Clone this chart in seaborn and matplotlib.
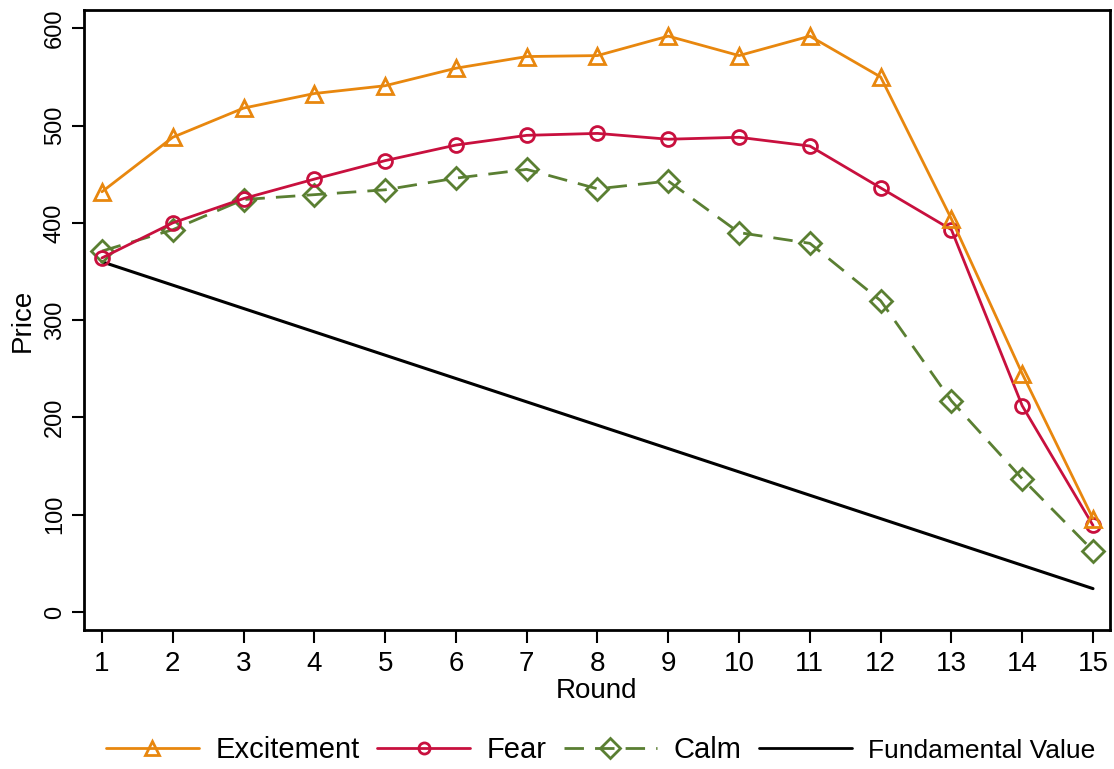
import numpy as np
import pandas as pd
import matplotlib
matplotlib.use('Agg')
import matplotlib.pyplot as plt
from matplotlib.lines import Line2D
import seaborn as sns

# Data
rounds = list(range(1, 16))
excitement = [432, 488, 518, 533, 541, 559, 571, 572, 592, 572, 592, 550, 404, 245, 96]
fear = [364, 400, 425, 445, 464, 480, 490, 492, 486, 488, 479, 436, 393, 212, 89]
calm = [371, 393, 424, 429, 434, 446, 455, 435, 443, 390, 379, 320, 217, 137, 63]
fundamental = [360, 336, 312, 288, 264, 240, 216, 192, 168, 144, 120, 96, 72, 48, 24]

c_exc = '#E8870E'
c_fear = '#C8103E'
c_calm = '#5A7F32'

sns.set_style('ticks')
plt.rcParams['font.family'] = ['Liberation Sans', 'DejaVu Sans']
plt.rcParams['text.color'] = 'black'
plt.rcParams['axes.labelcolor'] = 'black'
plt.rcParams['xtick.color'] = 'black'
plt.rcParams['ytick.color'] = 'black'

df = pd.DataFrame({'Round': rounds, 'Excitement': excitement, 'Fear': fear,
                   'Calm': calm, 'Fundamental Value': fundamental})

fig = plt.figure(figsize=(11.14, 7.69), dpi=100)
ax = fig.add_axes([0.0754, 0.1808, 0.921, 0.806])

sns.lineplot(data=df, x='Round', y='Fundamental Value', ax=ax, color='black', lw=2.2)
sns.lineplot(data=df, x='Round', y='Calm', ax=ax, color=c_calm, lw=2.0,
             marker='D', markersize=11, fillstyle='none', markeredgewidth=2.0,
             markeredgecolor=c_calm, dashes=(7, 4))
sns.lineplot(data=df, x='Round', y='Fear', ax=ax, color=c_fear, lw=2.0,
             marker='o', markersize=10, fillstyle='none', markeredgewidth=2.0,
             markeredgecolor=c_fear)
sns.lineplot(data=df, x='Round', y='Excitement', ax=ax, color=c_exc, lw=2.0,
             marker='^', markersize=12, fillstyle='none', markeredgewidth=2.0,
             markeredgecolor=c_exc)

ax.set_xlim(0.746, 15.24)
ax.set_ylim(-18.5, 618.7)
ax.set_xticks(rounds)
ax.set_yticks([0, 100, 200, 300, 400, 500, 600])
ax.tick_params(axis='x', labelsize=20, length=9, width=1.5, direction='out', pad=6)
ax.tick_params(axis='y', labelsize=17, length=9, width=1.5, direction='out', pad=4)
for lab in ax.get_yticklabels():
    lab.set_rotation(90)
    lab.set_va('center')
for s in ax.spines.values():
    s.set_linewidth(2)
    s.set_color('black')
ax.set_xlabel('Round', fontsize=20, labelpad=1)
ax.set_ylabel('Price', fontsize=20, labelpad=6)

handles = [
    Line2D([], [], color=c_exc, lw=2, marker='^', markersize=10, fillstyle='none', markeredgewidth=2),
    Line2D([], [], color=c_fear, lw=2, marker='o', markersize=8, fillstyle='none', markeredgewidth=2),
    Line2D([], [], color=c_calm, lw=2, marker='D', markersize=10, fillstyle='none', markeredgewidth=2, dashes=(7, 4)),
    Line2D([], [], color='black', lw=2),
]
labels = ['Excitement', 'Fear', 'Calm', 'Fundamental Value']
leg = fig.legend(handles, labels, loc='lower center', bbox_to_anchor=(0.539, -0.028), ncol=4,
                 frameon=False, fontsize=21, handlelength=3.2, columnspacing=0.6, handletextpad=0.55)
leg.get_texts()[3].set_fontsize(19)

fig.savefig('out.png', dpi=100)
